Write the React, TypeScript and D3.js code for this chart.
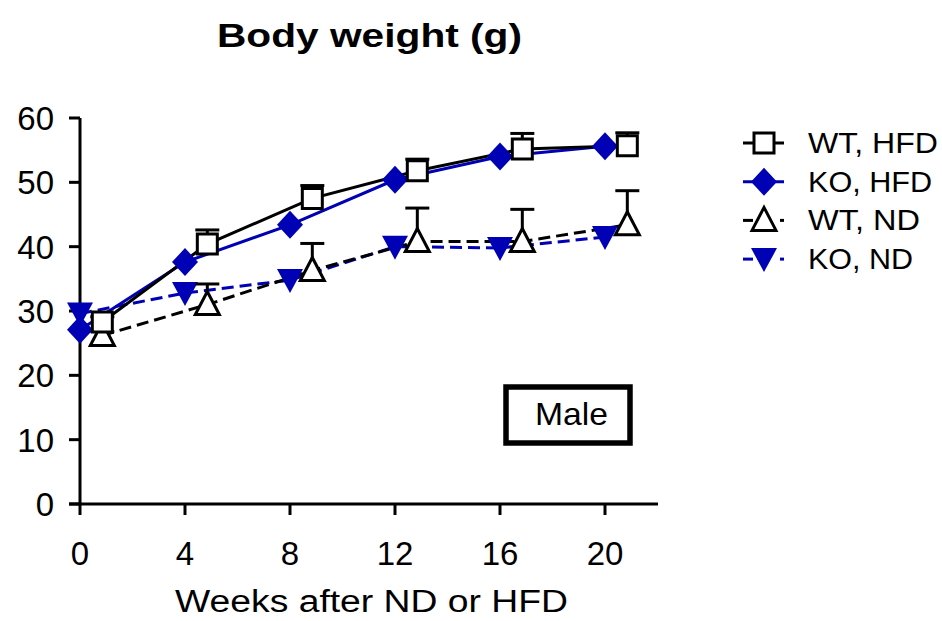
import React from "react";
import * as d3 from "d3";

const weeks = [0, 4, 8, 12, 16, 20];
const wtWeeks = [0.85, 4.85, 8.85, 12.85, 16.85, 20.85];
const wtHfd = [28.3, 40.4, 47.5, 51.8, 55.2, 55.7];
const wtHfdErr = [0.8, 2.2, 2.0, 1.8, 2.4, 2.0];
const koHfd = [27.1, 37.6, 43.4, 50.4, 54.0, 55.6];
const wtNd = [26.2, 31.0, 36.3, 40.8, 40.8, 43.4];
const wtNdErr = [0.6, 3.2, 4.2, 5.2, 5.0, 5.3];
const koNd = [29.6, 32.8, 34.8, 40.0, 39.8, 41.5];
const yTicks = [0, 10, 20, 30, 40, 50, 60];
const xTicks = [0, 4, 8, 12, 16, 20];
const legendLabels = ["WT, HFD", "KO, HFD", "WT, ND", "KO, ND"];
const legendWidths = [130, 124, 112, 105];

const BLUE = "#0000b4";
const FONT = "'Liberation Sans', Arial, sans-serif";

type Marker = "square" | "diamond" | "triUp" | "triDown";

const markerPath = (m: Marker, cx: number, cy: number) => {
  const p = d3.path();
  if (m === "square") {
    p.rect(cx - 10, cy - 10, 20, 20);
  } else if (m === "diamond") {
    p.moveTo(cx, cy - 14);
    p.lineTo(cx + 13, cy);
    p.lineTo(cx, cy + 14);
    p.lineTo(cx - 13, cy);
    p.closePath();
  } else if (m === "triUp") {
    p.moveTo(cx, cy - 13);
    p.lineTo(cx + 12, cy + 10);
    p.lineTo(cx - 12, cy + 10);
    p.closePath();
  } else {
    p.moveTo(cx - 13, cy - 11);
    p.lineTo(cx + 13, cy - 11);
    p.lineTo(cx, cy + 13);
    p.closePath();
  }
  return p.toString();
};

const App = () => {
  const x = d3.scaleLinear().domain([0, 20]).range([80, 605]);
  const y = d3.scaleLinear().domain([0, 60]).range([504, 118]);

  const series = [
    { xs: wtWeeks, ys: wtHfd, err: wtHfdErr, color: "#000", dash: "", marker: "square" as Marker, fill: "#fff" },
    { xs: weeks, ys: koHfd, err: null, color: BLUE, dash: "", marker: "diamond" as Marker, fill: BLUE },
    { xs: wtWeeks, ys: wtNd, err: wtNdErr, color: "#000", dash: "12,6", marker: "triUp" as Marker, fill: "#fff" },
    { xs: weeks, ys: koNd, err: null, color: BLUE, dash: "12,6", marker: "triDown" as Marker, fill: BLUE },
  ];

  const line = d3
    .line<[number, number]>()
    .x((d) => x(d[0]))
    .y((d) => y(d[1]));

  const drawOrder = [3, 2, 1, 0];

  return (
    <svg
      width={942}
      height={621}
      style={{ position: "absolute", left: 0, top: 0, background: "#fff" }}
      fontFamily={FONT}
    >
      <rect width={942} height={621} fill="#fff" />
      <text
        x={217}
        y={47}
        fontSize={33}
        fontWeight="bold"
        textLength={305}
        lengthAdjust="spacingAndGlyphs"
      >
        Body weight (g)
      </text>

      {/* axes */}
      <line x1={80} x2={80} y1={y(60)} y2={y(0)} stroke="#000" strokeWidth={3} />
      <line x1={69} x2={658} y1={y(0)} y2={y(0)} stroke="#000" strokeWidth={3} />
      {yTicks.map((t) => (
        <g key={"y" + t}>
          <line x1={69} x2={80} y1={y(t)} y2={y(t)} stroke="#000" strokeWidth={3} />
          <text x={54} y={y(t) + 12} textAnchor="end" fontSize={33}>
            {t}
          </text>
        </g>
      ))}
      {xTicks.map((t) => (
        <g key={"x" + t}>
          <line x1={x(t)} x2={x(t)} y1={y(0)} y2={y(0) + 11} stroke="#000" strokeWidth={3} />
          <text x={x(t)} y={565} textAnchor="middle" fontSize={33}>
            {t}
          </text>
        </g>
      ))}
      <text x={175} y={612} fontSize={31} textLength={393} lengthAdjust="spacingAndGlyphs">
        Weeks after ND or HFD
      </text>

      {/* lines */}
      {drawOrder.map((i) => {
        const s = series[i];
        const pts = s.xs.map((v, j) => [v, s.ys[j]] as [number, number]);
        return (
          <path
            key={"l" + i}
            d={line(pts) || ""}
            fill="none"
            stroke={s.color}
            strokeWidth={3}
            strokeDasharray={s.dash}
          />
        );
      })}

      {/* error bars + markers */}
      {drawOrder.map((i) => {
        const s = series[i];
        return (
          <g key={"m" + i}>
            {s.err &&
              s.xs.map((v, j) => (
                <g key={j}>
                  <line
                    x1={x(v)}
                    x2={x(v)}
                    y1={y(s.ys[j])}
                    y2={y(s.ys[j] + s.err![j])}
                    stroke="#000"
                    strokeWidth={3}
                  />
                  <line
                    x1={x(v) - 12}
                    x2={x(v) + 12}
                    y1={y(s.ys[j] + s.err![j])}
                    y2={y(s.ys[j] + s.err![j])}
                    stroke="#000"
                    strokeWidth={3}
                  />
                </g>
              ))}
            {s.xs.map((v, j) => (
              <path
                key={j}
                d={markerPath(s.marker, x(v), y(s.ys[j]))}
                fill={s.fill}
                stroke={s.color}
                strokeWidth={s.fill === "#fff" ? 3 : 0}
              />
            ))}
          </g>
        );
      })}

      {/* Male box */}
      <rect x={506} y={387} width={124} height={56} fill="#fff" stroke="#000" strokeWidth={5.5} />
      <text x={535} y={425} fontSize={32} textLength={73} lengthAdjust="spacingAndGlyphs">
        Male
      </text>

      {/* legend */}
      {series.map((s, i) => {
        const ly = 143 + i * 38.7;
        return (
          <g key={"lg" + i}>
            {s.dash ? (
              <>
                <line x1={743} x2={753} y1={ly} y2={ly} stroke={s.color} strokeWidth={3} />
                <line x1={780} x2={784} y1={ly} y2={ly} stroke={s.color} strokeWidth={3} />
              </>
            ) : (
              <line x1={743} x2={784} y1={ly} y2={ly} stroke={s.color} strokeWidth={3} />
            )}
            <path
              d={markerPath(s.marker, 764, ly)}
              fill={s.fill}
              stroke={s.color}
              strokeWidth={s.fill === "#fff" ? 3 : 0}
            />
            <text
              x={808}
              y={ly + 10}
              fontSize={30}
              textLength={legendWidths[i]}
              lengthAdjust="spacingAndGlyphs"
            >
              {legendLabels[i]}
            </text>
          </g>
        );
      })}
    </svg>
  );
};

export default App;
